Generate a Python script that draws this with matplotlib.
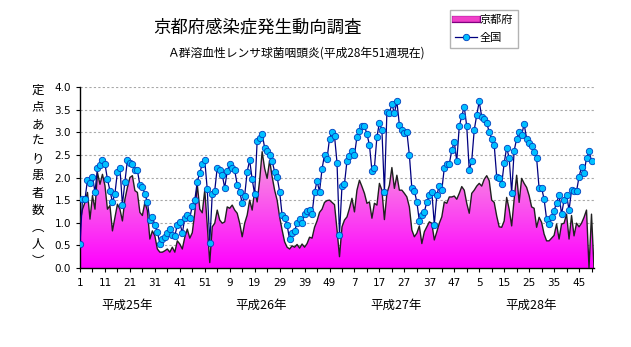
import numpy as np
import matplotlib.pyplot as plt
import matplotlib.patheffects as pe
from matplotlib.colors import LinearSegmentedColormap
from matplotlib.patches import PathPatch
from matplotlib.lines import Line2D

plt.rcParams['font.family'] = ['Noto Sans CJK JP', 'DejaVu Sans']

# 定点あたり患者数 (Kyoto prefecture), weekly, H25 w1 .. H28 w51
kyoto_h25 = [1.00, 1.30, 1.45, 1.67, 1.08, 1.60, 1.30, 2.11, 1.85, 2.07,
             1.82, 1.30, 1.38, 0.82, 1.12, 1.41, 1.30, 1.04, 1.52, 1.78,
             2.00, 2.04, 1.71, 1.67, 1.23, 1.16, 1.45, 1.27, 0.64, 0.82,
             0.71, 0.42, 0.35, 0.35, 0.38, 0.42, 0.35, 0.46, 0.35, 0.60,
             0.53, 0.42, 0.68, 0.86, 0.66, 0.78, 1.22, 1.85, 1.30, 1.22,
             1.72, 0.95]
kyoto_h26 = [0.12, 0.91, 0.99, 1.28, 1.06, 0.99, 1.02, 1.35, 1.32, 1.39,
             1.28, 1.21, 0.99, 0.69, 0.99, 1.17, 1.50, 1.28, 1.72, 1.46,
             1.94, 2.57, 2.20, 1.98, 2.38, 2.02, 1.72, 1.50, 1.13, 0.84,
             0.58, 0.46, 0.42, 0.49, 0.46, 0.52, 0.44, 0.53, 0.46, 0.54,
             0.68, 0.66, 0.90, 1.04, 1.23, 1.30, 1.45, 1.49, 1.50, 1.45,
             1.40, 0.85]
kyoto_h27 = [0.25, 0.91, 1.06, 1.13, 1.32, 1.54, 1.24, 1.72, 1.94, 1.80,
             1.65, 1.43, 1.46, 1.10, 1.43, 1.39, 1.87, 1.72, 1.07, 1.65,
             1.83, 2.22, 1.76, 2.05, 1.72, 1.72, 1.65, 1.57, 1.35, 0.84,
             0.69, 0.77, 0.93, 0.54, 0.80, 0.91, 1.02, 0.99, 0.62, 0.80,
             0.99, 1.13, 1.46, 1.43, 1.57, 1.57, 1.59, 1.52, 1.65, 1.80,
             1.72, 1.43]
kyoto_h28 = [1.21, 1.65, 1.72, 1.81, 1.87, 1.81, 1.96, 2.04, 1.93, 1.50,
             1.45, 1.15, 0.91, 0.90, 1.04, 1.56, 1.30, 0.93, 1.52, 2.05,
             1.45, 1.98, 1.87, 1.78, 1.60, 1.35, 1.32, 0.90, 1.12, 1.01,
             0.75, 0.60, 0.60, 0.66, 0.72, 0.97, 0.64, 0.97, 0.99, 1.19,
             0.64, 1.16, 0.71, 0.99, 0.91, 0.99, 1.12, 1.28, 0.00, 1.19,
             0.00]

# 全国
zenkoku_h25 = [0.53, 1.52, 1.52, 1.95, 1.88, 2.02, 1.68, 2.20, 2.27, 2.38,
               2.30, 1.96, 1.71, 1.46, 1.64, 2.13, 2.21, 1.40, 1.91, 2.38,
               2.33, 2.30, 2.16, 2.16, 1.83, 1.80, 1.63, 1.46, 1.06, 1.13,
               0.95, 0.80, 0.54, 0.63, 0.68, 0.78, 0.86, 0.73, 0.71, 0.95,
               1.01, 0.77, 1.10, 1.17, 1.10, 1.38, 1.50, 1.91, 2.10, 2.30,
               2.38, 1.74]
zenkoku_h26 = [0.55, 1.63, 1.71, 2.22, 2.17, 2.06, 1.77, 2.14, 2.30, 2.22,
               2.16, 1.84, 1.69, 1.43, 1.60, 2.13, 2.38, 1.96, 1.63, 2.81,
               2.88, 2.96, 2.66, 2.58, 2.49, 2.36, 2.13, 2.01, 1.69, 1.17,
               1.10, 0.95, 0.63, 0.77, 0.82, 0.99, 1.09, 1.00, 1.19, 1.27,
               1.29, 1.20, 1.67, 1.92, 1.69, 2.19, 2.50, 2.41, 2.86, 3.01,
               2.92, 2.33]
zenkoku_h27 = [0.74, 1.82, 1.86, 2.37, 2.47, 2.59, 2.50, 2.90, 3.03, 3.14,
               3.14, 2.96, 2.72, 2.15, 2.22, 2.90, 3.21, 3.05, 1.67, 3.45,
               3.42, 3.62, 3.42, 3.68, 3.16, 3.05, 2.98, 3.01, 2.50, 1.76,
               1.71, 1.46, 1.04, 1.17, 1.24, 1.46, 1.61, 1.69, 0.96, 1.61,
               1.82, 1.72, 2.21, 2.30, 2.30, 2.60, 2.79, 2.36, 3.13, 3.36,
               3.56, 3.13]
zenkoku_h28 = [2.16, 2.37, 3.05, 3.38, 3.68, 3.34, 3.30, 3.20, 3.01, 2.85,
               2.72, 2.02, 1.99, 1.85, 2.32, 2.66, 2.43, 1.66, 2.59, 2.86,
               3.00, 2.94, 3.18, 2.86, 2.76, 2.69, 2.56, 2.43, 1.76, 1.77,
               1.52, 1.08, 0.97, 1.12, 1.27, 1.44, 1.61, 1.19, 1.50, 1.62,
               1.28, 1.72, 1.71, 1.70, 2.01, 2.24, 2.10, 2.43, 2.58, 2.37,
               np.nan]

week_labels = ['1', '11', '21', '31', '41', '51', '9', '19', '29', '39', '49',
               '7', '17', '27', '37', '47', '5', '15', '25', '35', '45']
year_labels = ['平成25年', '平成26年', '平成27年', '平成28年']

kyoto = np.array(kyoto_h25 + kyoto_h26 + kyoto_h27 + kyoto_h28)
zenkoku = np.array(zenkoku_h25 + zenkoku_h26 + zenkoku_h27 + zenkoku_h28)
x = np.arange(1, len(kyoto) + 1)

fig = plt.figure(figsize=(6.31, 3.47), dpi=100)
ax = fig.add_axes([80 / 631, 1 - 268 / 347, 514 / 631, 181 / 347])

# pink->magenta gradient clipped to the Kyoto area
cmap = LinearSegmentedColormap.from_list('kyo', ['#FF00FF', '#F6A8DC'])
grad = np.linspace(0, 1, 256).reshape(-1, 1)
im = ax.imshow(grad, extent=[1, len(x), 0, 2.7], origin='lower', aspect='auto',
               cmap=cmap, zorder=1)
area = ax.fill_between(x, 0, kyoto, facecolor='none', edgecolor='none')
clip = PathPatch(area.get_paths()[0], transform=ax.transData,
                 facecolor='none', edgecolor='none')
ax.add_patch(clip)
im.set_clip_path(clip)
ax.plot(x, kyoto, color='#202020', lw=1.0, zorder=3)

ok = ~np.isnan(zenkoku)
ax.plot(x[ok], zenkoku[ok], color='#000080', lw=0.9, marker='o', ms=4.6,
        mfc='#00C0FF', mec='#0040C0', mew=0.6, zorder=4)

ax.set_xlim(1, len(x))
ax.set_ylim(0, 4)
ax.set_yticks(np.arange(0, 4.01, 0.5))
ax.set_yticklabels([f'{v:.1f}' for v in np.arange(0, 4.01, 0.5)],
                   family='DejaVu Sans', fontsize=7.5)
ax.set_xticks(np.arange(1, len(x) + 1, 10))
ax.set_xticklabels(week_labels, family='DejaVu Sans', fontsize=7.5)
ax.set_xticks(np.arange(1, len(x) + 1, 5), minor=True)
ax.tick_params(axis='both', which='both', length=3, width=0.8, color='black')
ax.tick_params(axis='x', pad=4)
ax.yaxis.grid(True, color='#A8A8A8', ls=(0, (2, 2)), lw=0.8)
ax.set_axisbelow(True)
for s in ['top', 'right']:
    ax.spines[s].set_visible(False)
for s in ['left', 'bottom']:
    ax.spines[s].set_color('black')
    ax.spines[s].set_linewidth(1.0)

# upright vertical y label
fig.text(38 / 631, 1 - 176 / 347, '\n'.join('定点あたり患者数︵人︶'),
         ha='center', va='center', fontsize=9, linespacing=1.42)

for px, lab in zip([127.5, 261, 396, 531], year_labels):
    fig.text(px / 631, 1 - 305 / 347, lab, ha='center', va='center', fontsize=9)

fig.text(257.5 / 631, 1 - 28 / 347, '京都府感染症発生動向調査',
         ha='center', va='center', fontsize=12.5)
fig.text(296 / 631, 1 - 53 / 347, 'Ａ群溶血性レンサ球菌咽頭炎(平成28年51週現在)',
         ha='center', va='center', fontsize=8.5)

h1 = Line2D([], [], color='#F040C8', lw=4,
            path_effects=[pe.Stroke(linewidth=5.2, foreground='#800080'), pe.Normal()])
h2 = Line2D([], [], color='#000080', lw=0.9, marker='o', ms=4.6,
            mfc='#00C0FF', mec='#0040C0', mew=0.6)
fig.legend([h1, h2], ['京都府', '全国'], loc='upper left',
           bbox_to_anchor=(450 / 631, 1 - 10 / 347), fontsize=8, frameon=True,
           fancybox=False, edgecolor='#A0A0A0', handlelength=2.0,
           handletextpad=0.2, borderpad=0.45, labelspacing=0.65, borderaxespad=0)

fig.savefig('out.png', dpi=100)
